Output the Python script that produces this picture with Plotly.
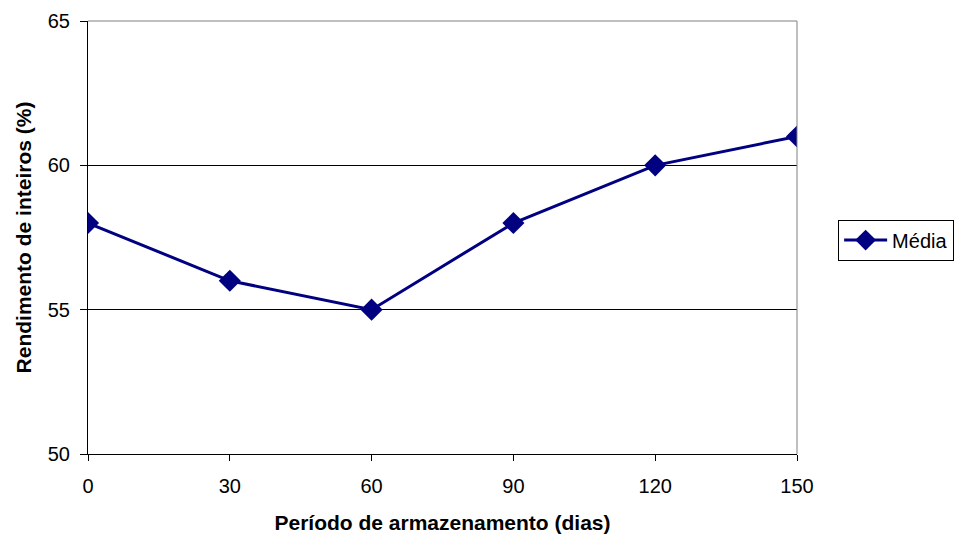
import plotly.graph_objects as go

dias = [0, 30, 60, 90, 120, 150]
media = [58, 56, 55, 58, 60, 61]
x_ticks = [0, 30, 60, 90, 120, 150]
y_ticks = [50, 55, 60, 65]

fig = go.Figure()
fig.add_trace(go.Scatter(
    x=dias, y=media, mode="lines+markers", name="Média",
    line=dict(color="#000080", width=3),
    marker=dict(symbol="diamond", size=17, color="#000080"),
))

font = "Liberation Sans, Arial, sans-serif"
fig.update_layout(
    width=958, height=530,
    margin=dict(l=80, r=169, t=13, b=84, autoexpand=False),
    paper_bgcolor="white", plot_bgcolor="white",
    font=dict(family=font, size=20, color="black"),
    showlegend=True,
    legend=dict(x=1.058, y=0.494, xanchor="left", yanchor="middle",
                bordercolor="black", borderwidth=1, bgcolor="white",
                font=dict(size=20), itemwidth=43),
    xaxis=dict(range=[0, 150], tickvals=x_ticks, showgrid=False,
               showline=True, linecolor="black", linewidth=1,
               ticks="outside", ticklen=6, tickcolor="black",
               ticklabelstandoff=8, automargin=False,
               zeroline=False,
               title=dict(text="<b>Período de armazenamento (dias)</b>", font=dict(size=21), standoff=19)),
    yaxis=dict(range=[50, 65], tickvals=y_ticks, showgrid=True, gridcolor="black", gridwidth=1,
               showline=True, linecolor="black", linewidth=1,
               ticks="outside", ticklen=7, tickcolor="black",
               ticklabelstandoff=6, automargin=False,
               zeroline=False,
               title=dict(text="<b>Rendimento de inteiros (%)</b>", font=dict(size=21), standoff=10)),
)
fig.add_shape(type="line", xref="paper", yref="paper", x0=0, x1=1, y0=1, y1=1,
              line=dict(color="#808080", width=1))
fig.add_shape(type="line", xref="paper", yref="paper", x0=1, x1=1, y0=0, y1=1,
              line=dict(color="#808080", width=1))
fig.write_html("out.html")
